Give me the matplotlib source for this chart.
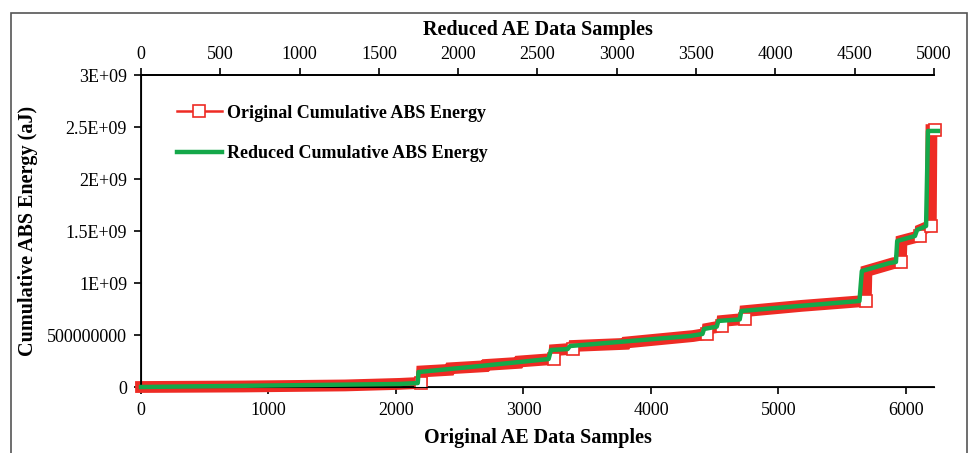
import matplotlib
matplotlib.use("Agg")
import matplotlib.pyplot as plt
from matplotlib.lines import Line2D
from matplotlib.patches import Rectangle

plt.rcParams['font.family'] = ['Liberation Serif', 'DejaVu Serif']

## Original AE data: sample index and cumulative ABS energy (aJ)
orig_samples = [0, 800, 1600, 2030, 2200, 2205, 2420, 2425, 2700, 2705, 2960, 2965, 3240, 3245, 3390, 3395,
                3800, 3805, 4330, 4440, 4445, 4555, 4560, 4735, 4740, 5180, 5685, 5690, 5900, 5960, 5965,
                6110, 6115, 6195, 6200, 6230]
orig_energy = [0, 5e6, 15e6, 30e6, 40e6, 150e6, 165e6, 180e6, 200e6, 212e6, 232e6, 245e6, 270e6, 355e6,
               368e6, 395e6, 415e6, 428e6, 490e6, 512e6, 560e6, 585e6, 635e6, 655e6, 730e6, 780e6, 828e6,
               1115e6, 1190e6, 1200e6, 1405e6, 1452e6, 1510e6, 1552e6, 2470e6, 2470e6]
# points just before each jump, where the open squares show through
orig_open_idx = [4, 12, 14, 19, 21, 23, 26, 29, 31, 33, 35]

## Reduced AE data
red_samples = [0, 1630, 1745, 1750, 2140, 2570, 2585, 2690, 2705, 3460, 3540, 3550, 3630, 3640,
               3775, 3785, 4150, 4530, 4545, 4720, 4760, 4768, 4880, 4893, 4950, 4962, 5025]
red_energy = [0, 29e6, 38e6, 144e6, 202e6, 269e6, 356e6, 365e6, 394e6, 490e6, 510e6, 558e6, 580e6, 635e6,
              650e6, 731e6, 779e6, 827e6, 1115e6, 1192e6, 1202e6, 1404e6, 1452e6, 1510e6, 1548e6, 2462e6, 2462e6]

y_ticks = [0, 5e8, 1e9, 1.5e9, 2e9, 2.5e9, 3e9]
y_labels = ["0", "500000000", "1E+09", "1.5E+09", "2E+09", "2.5E+09", "3E+09"]
bottom_ticks = [0, 1000, 2000, 3000, 4000, 5000, 6000]
top_ticks = list(range(0, 5001, 500))

RED = '#ee2b24'
GREEN = '#14a84a'

fig = plt.figure(figsize=(9.7, 4.53), dpi=100)
ax = fig.add_axes([141/970, 1 - 387/453, 793/970, 312/453])

# thick red band + open squares at the step ends
ax.plot(orig_samples, orig_energy, color=RED, linewidth=8.5, solid_joinstyle='miter', zorder=2, clip_on=False)
ax.plot(orig_samples, orig_energy, linestyle='none', marker='s', markersize=8.5, markerfacecolor='white',
        markeredgecolor=RED, markeredgewidth=1.2, markevery=orig_open_idx, zorder=3, clip_on=False)

ax.set_xlim(0, 6220)
ax.set_ylim(0, 3e9)
ax.set_xticks(bottom_ticks)
ax.set_yticks(y_ticks)
ax.set_yticklabels(y_labels)
ax.tick_params(axis='both', direction='out', length=5, width=1.2, labelsize=13, colors='black')
ax.tick_params(axis='x', pad=6)
ax.tick_params(axis='y', pad=5)
ax.spines['right'].set_visible(False)
for s in ['left', 'bottom', 'top']:
    ax.spines[s].set_linewidth(1.3)
ax.set_xlabel("Original AE Data Samples", fontsize=14.5, fontweight='bold', labelpad=6)
ax.set_ylabel("Cumulative ABS Energy (aJ)", fontsize=14.5, fontweight='bold', va='center')
ax.yaxis.set_label_coords(-0.1425, 0.5)

# reduced series against the top axis
ax2 = ax.twiny()
ax2.plot(red_samples, red_energy, color=GREEN, linewidth=3.2, zorder=4, clip_on=False)
ax2.set_xlim(0, 5000)
ax2.set_xticks(top_ticks)
ax2.tick_params(axis='x', direction='out', length=5, width=1.2, labelsize=13)
ax2.spines['right'].set_visible(False)
ax2.spines['top'].set_linewidth(1.3)
ax2.set_xlabel("Reduced AE Data Samples", fontsize=14.5, fontweight='bold', labelpad=8)

handles = [
    Line2D([], [], color=RED, linewidth=1.8, marker='s', markersize=8.5, markerfacecolor='white',
           markeredgecolor=RED, markeredgewidth=1.2),
    Line2D([], [], color=GREEN, linewidth=3.2),
]
ax2.legend(handles, ["Original Cumulative ABS Energy", "Reduced Cumulative ABS Energy"],
           loc='upper left', bbox_to_anchor=(0.045, 0.905), frameon=False, borderpad=0, borderaxespad=0,
           handlelength=2.5, handletextpad=0.3, labelspacing=1.3, prop={'weight': 'bold', 'size': 13})

# outer frame around the figure
fig.patches.append(Rectangle((11/970, -0.02), 956/970, 1 - 13/453 + 0.02, transform=fig.transFigure,
                             fill=False, edgecolor='#555555', linewidth=1.2))

fig.savefig("out.png", dpi=100)
